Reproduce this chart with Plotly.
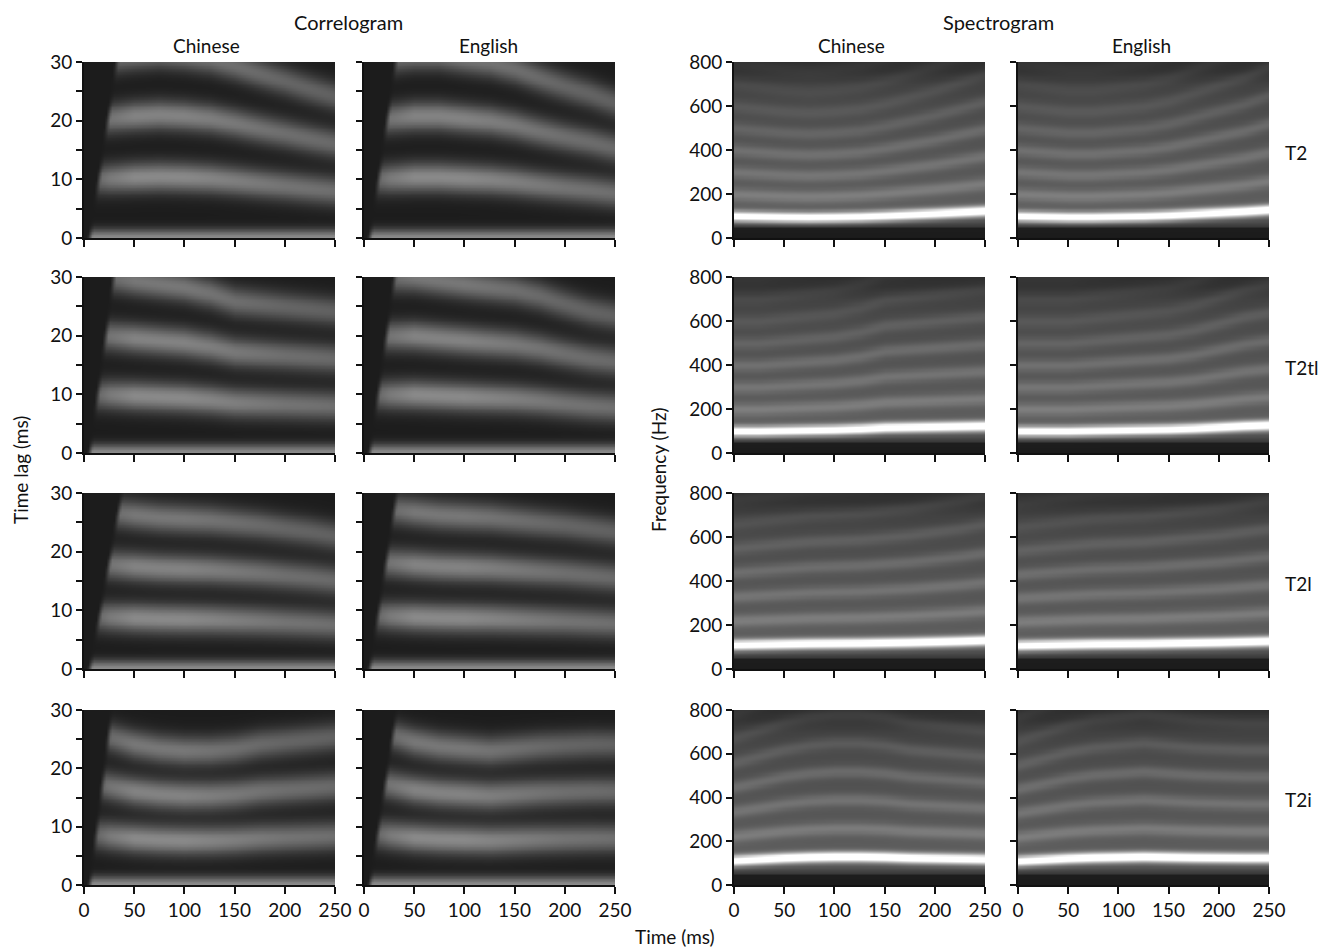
import numpy as np
import plotly.graph_objects as go

W, H = 1322, 948

TIME_MS = [0, 25, 50, 75, 100, 125, 150, 175, 200, 225, 250]
TONES = ["T2", "T2tl", "T2l", "T2i"]
LANGS = ["Chinese", "English"]

F0_T2_CHINESE = [100, 98, 96, 95, 96, 98, 102, 107, 112, 118, 124]
F0_T2_ENGLISH = [100, 98, 96, 96, 98, 100, 104, 110, 116, 122, 130]
F0_T2TL_CHINESE = [100, 100, 102, 104, 106, 110, 116, 118, 120, 122, 124]
F0_T2TL_ENGLISH = [100, 100, 100, 102, 104, 106, 108, 112, 118, 124, 128]
F0_T2L_CHINESE = [110, 112, 114, 116, 117, 118, 120, 122, 125, 128, 132]
F0_T2L_ENGLISH = [108, 110, 112, 114, 115, 116, 118, 120, 122, 125, 128]
F0_T2I_CHINESE = [112, 118, 124, 128, 130, 130, 128, 124, 122, 120, 118]
F0_T2I_ENGLISH = [110, 116, 122, 126, 128, 130, 128, 126, 125, 124, 124]

# time (ms) where the correlogram starts at the 30 ms lag
ONSET_TOP_CHINESE = [30, 27, 35, 25]
ONSET_TOP_ENGLISH = [29, 28, 30, 30]
ONSET_BOTTOM_MS = 3

# correlogram brightness: lag-0 strip, then bands at 1, 2, 3 periods
CORR_BAND_LEVEL = [0.5, 0.48, 0.45, 0.4]
CORR_ENVELOPE = [0.5, 0.85, 1.0, 1.0, 1.0, 0.95, 0.9, 0.85, 0.8, 0.78, 0.75]

# spectrogram background level vs frequency, and harmonic brightness
SPEC_BG_FREQ = [0, 45, 55, 90, 150, 250, 400, 600, 700, 760, 800]
SPEC_BG_LEVEL = [0.03, 0.04, 0.16, 0.28, 0.31, 0.29, 0.27, 0.23, 0.19, 0.13, 0.11]
HARMONIC_LEVEL = [0.85, 0.15, 0.13, 0.12, 0.09, 0.06, 0.04, 0.03]

F0 = {
    ("T2", "Chinese"): F0_T2_CHINESE, ("T2", "English"): F0_T2_ENGLISH,
    ("T2tl", "Chinese"): F0_T2TL_CHINESE, ("T2tl", "English"): F0_T2TL_ENGLISH,
    ("T2l", "Chinese"): F0_T2L_CHINESE, ("T2l", "English"): F0_T2L_ENGLISH,
    ("T2i", "Chinese"): F0_T2I_CHINESE, ("T2i", "English"): F0_T2I_ENGLISH,
}

# panel edges in page pixels
COL_PX = [(84, 335), (364, 615), (734, 985), (1018, 1269)]
ROW_PX = [(62, 238), (277, 453), (493, 669), (710, 885)]

t = np.arange(0, 251, 2.0)


def px_x(p):
    return p / W


def px_y(p):
    return 1 - p / H


def correlogram(f0, onset_top):
    lag = np.arange(0, 30.01, 0.25)
    period = 1000.0 / np.interp(t, TIME_MS, f0)
    env = np.interp(t, TIME_MS, CORR_ENVELOPE)
    L, P = np.meshgrid(lag, period, indexing="ij")
    z = CORR_BAND_LEVEL[0] * np.exp(-(L ** 2) / (2 * 1.1 ** 2))
    for n in (1, 2, 3):
        z = z + CORR_BAND_LEVEL[n] * np.exp(-((L - n * P) ** 2) / (2 * 1.8 ** 2)) * env
    onset = ONSET_BOTTOM_MS + lag[:, None] / 30.0 * (onset_top - ONSET_BOTTOM_MS)
    z = z * np.clip((t[None, :] - onset) / 5.0, 0, 1)
    return lag, z


def spectrogram(f0):
    freq = np.arange(0, 801, 5.0)
    f0_t = np.interp(t, TIME_MS, f0)
    Fq, F = np.meshgrid(freq, f0_t, indexing="ij")
    z = np.interp(freq, SPEC_BG_FREQ, SPEC_BG_LEVEL)[:, None] + 0 * Fq
    for k, a in enumerate(HARMONIC_LEVEL, start=1):
        sig = 17.0 if k == 1 else 21.0
        z = z + a * np.exp(-((Fq - k * F) ** 2) / (2 * sig ** 2))
    return freq, np.clip(z, 0, 1)


fig = go.Figure()
tick_font = dict(family="Lato, Open Sans, sans-serif", size=19, color="#111")
text_font = dict(family="Lato, Open Sans, sans-serif", size=19, color="#111")
corr_scale = [[0, "#1c1c1c"], [1, "#ffffff"]]
spec_scale = [[0, "#141414"], [1, "#ffffff"]]

n = 0
for r, tone in enumerate(TONES):
    for c in range(4):
        n += 1
        lang = LANGS[c % 2]
        f0 = F0[(tone, lang)]
        if c < 2:
            onset_top = (ONSET_TOP_CHINESE if lang == "Chinese" else ONSET_TOP_ENGLISH)[r]
            yv, z = correlogram(f0, onset_top)
            cs = corr_scale
        else:
            yv, z = spectrogram(f0)
            cs = spec_scale
        sfx = "" if n == 1 else str(n)
        fig.add_trace(go.Heatmap(
            x=t, y=yv, z=z, zmin=0, zmax=1, colorscale=cs, showscale=False,
            zsmooth="best", hoverinfo="skip",
            xaxis="x" + sfx, yaxis="y" + sfx,
        ))
        x0, x1 = COL_PX[c]
        y0, y1 = ROW_PX[r]
        bottom = r == 3
        fig.layout["xaxis" + sfx] = dict(
            domain=[px_x(x0), px_x(x1)], range=[0, 250], anchor="y" + sfx,
            tickvals=[0, 50, 100, 150, 200, 250], showticklabels=bottom,
            ticks="outside", ticklen=7, tickwidth=2, tickcolor="#111",
            showline=True, linecolor="#111", linewidth=2,
            showgrid=False, zeroline=False, tickfont=tick_font,
        )
        if c < 2:
            ydict = dict(range=[0, 30], tickvals=[0, 5, 10, 15, 20, 25, 30],
                         ticktext=["0", "", "10", "", "20", "", "30"])
        else:
            ydict = dict(range=[0, 800], tickvals=[0, 200, 400, 600, 800])
        fig.layout["yaxis" + sfx] = dict(
            domain=[px_y(y1), px_y(y0)], anchor="x" + sfx,
            showticklabels=(c % 2 == 0),
            ticks="outside", ticklen=6, tickwidth=2, tickcolor="#111",
            showline=True, linecolor="#111", linewidth=2,
            showgrid=False, zeroline=False, tickfont=tick_font, **ydict,
        )

ann = []


def label(text, x, y, angle=0, anchor="center", size=19):
    ann.append(dict(text=text, x=px_x(x), y=px_y(y), xref="paper", yref="paper",
                    showarrow=False, textangle=angle, xanchor=anchor, yanchor="middle",
                    font=dict(text_font, size=size)))


label("Correlogram", 348, 22, size=20)
label("Spectrogram", 998, 22, size=20)
for cx, name in zip([206, 488, 851, 1141], ["Chinese", "English", "Chinese", "English"]):
    label(name, cx, 46)
for r, tone in enumerate(TONES):
    label(tone, 1283, (ROW_PX[r][0] + ROW_PX[r][1]) / 2 + 2, anchor="left")
label("Time lag (ms)", 20, 470, angle=-90)
label("Frequency (Hz)", 658, 470, angle=-90)
label("Time (ms)", 675, 936)

fig.update_layout(
    width=W, height=H, margin=dict(l=0, r=0, t=0, b=0, autoexpand=False),
    paper_bgcolor="white", plot_bgcolor="white",
    annotations=ann, showlegend=False,
)

# drop the default page margin so the figure fills the window exactly
fig.write_html("out.html", config={"displayModeBar": False},
               post_script="document.body.style.margin = '0px';")
